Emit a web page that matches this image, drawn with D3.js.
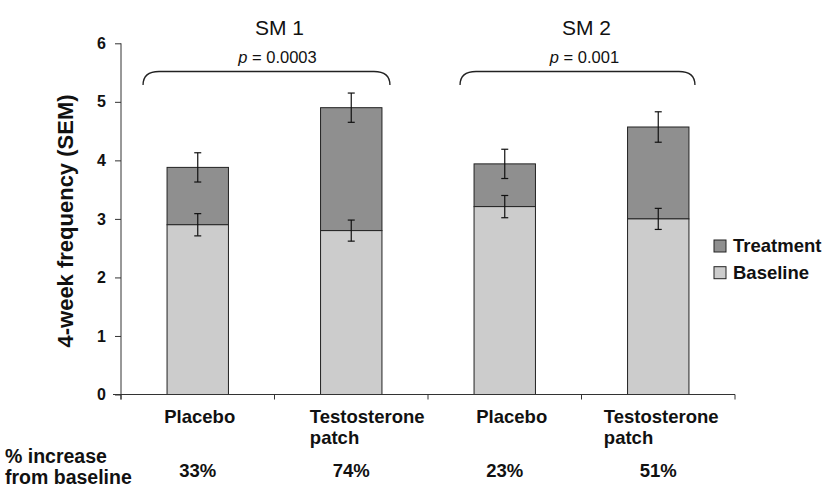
<!DOCTYPE html>
<html><head><meta charset="utf-8">
<script src="https://cdn.jsdelivr.net/npm/d3@7"></script>
<style>body{margin:0;background:#fff}svg{display:block}text{font-family:"Liberation Sans",Arial,sans-serif}</style>
</head><body><svg id="c" width="822" height="487"></svg>
<script>
const categories = ["Placebo","Testosterone patch","Placebo","Testosterone patch"];
const baseline = [2.9, 2.8, 3.21, 3.0];
const baselineErr = [0.19, 0.18, 0.19, 0.18];
const total = [3.88, 4.9, 3.94, 4.57];
const totalErr = [0.25, 0.25, 0.25, 0.26];
const pctIncrease = ["33%","74%","23%","51%"];
const groups = ["SM 1","SM 2"];
const pValues = ["0.0003","0.001"];
const yTicks = [0,1,2,3,4,5,6];
const legendItems = ["Treatment","Baseline"];

const svg = d3.select("#c");
const x = d3.scaleBand().domain(d3.range(categories.length)).range([121,735]).paddingInner(0.6).paddingOuter(0.3);
const y = d3.scaleLinear().domain([0,6]).range([394.5,43.3]);
const colTreat = "#8f8f8f", colBase = "#cccccc", stroke = "#222";
const ink = "#111";

// bars
const g = svg.append("g");
categories.forEach((c,i)=>{
  g.append("rect").attr("x",x(i)).attr("width",x.bandwidth()).attr("y",y(total[i])).attr("height",y(baseline[i])-y(total[i]))
    .attr("fill",colTreat).attr("stroke",stroke).attr("stroke-width",1);
  g.append("rect").attr("x",x(i)).attr("width",x.bandwidth()).attr("y",y(baseline[i])).attr("height",y(0)-y(baseline[i]))
    .attr("fill",colBase).attr("stroke",stroke).attr("stroke-width",1);
});
// error bars
function err(i,v,e){
  const cx = x(i)+x.bandwidth()/2;
  const eg = g.append("g").attr("stroke","#111").attr("stroke-width",1.2);
  eg.append("line").attr("x1",cx).attr("x2",cx).attr("y1",y(v+e)).attr("y2",y(v-e));
  eg.append("line").attr("x1",cx-3.5).attr("x2",cx+3.5).attr("y1",y(v+e)).attr("y2",y(v+e));
  eg.append("line").attr("x1",cx-3.5).attr("x2",cx+3.5).attr("y1",y(v-e)).attr("y2",y(v-e));
}
categories.forEach((c,i)=>{ err(i,baseline[i],baselineErr[i]); err(i,total[i],totalErr[i]); });

// y axis
const ya = svg.append("g").attr("transform","translate(121,0)")
  .call(d3.axisLeft(y).tickValues(yTicks).tickSize(6).tickPadding(9).tickFormat(d3.format("d")));
ya.select(".domain").attr("d",`M0,${y(6)}V${y(0)+5}`).attr("stroke","#333");
ya.selectAll(".tick line").attr("stroke","#333");
ya.selectAll("text").attr("font-size",16).attr("font-weight","bold").attr("fill",ink).attr("font-family","Liberation Sans, Arial, sans-serif");

// x axis
const xa = svg.append("g");
xa.append("line").attr("x1",113).attr("x2",735).attr("y1",y(0)).attr("y2",y(0)).attr("stroke","#333");
const tickXs = [121].concat(d3.range(1,categories.length).map(i=>(x(i-1)+x.bandwidth()+x(i))/2)).concat([735]);
tickXs.forEach(t=> xa.append("line").attr("x1",t).attr("x2",t).attr("y1",y(0)).attr("y2",y(0)+5).attr("stroke","#333"));

// category labels
const labelShift = [2, 16, 7, 3];
categories.forEach((c,i)=>{
  const cx = x(i)+x.bandwidth()/2;
  const words = c.split(" ");
  const t1 = svg.append("text").attr("x",cx+labelShift[i]).attr("y",423).attr("text-anchor","middle").attr("font-size",18.5).attr("font-weight","bold").attr("fill",ink).text(words[0]);
  if(words.length>1){
    const w = t1.node().getComputedTextLength();
    svg.append("text").attr("x",cx+labelShift[i]-w/2).attr("y",444).attr("text-anchor","start").attr("font-size",18.5).attr("font-weight","bold").attr("fill",ink).text(words.slice(1).join(" "));
  }
  svg.append("text").attr("x",cx).attr("y",477).attr("text-anchor","middle").attr("font-size",18.5).attr("font-weight","bold").attr("fill",ink).text(pctIncrease[i]);
});
svg.append("text").attr("x",5).attr("y",463).attr("font-size",19.5).attr("font-weight","bold").attr("fill",ink).text("% increase");
svg.append("text").attr("x",5).attr("y",484).attr("font-size",19.5).attr("font-weight","bold").attr("fill",ink).text("from baseline");

// y title
svg.append("text").attr("transform","translate(73,221) rotate(-90)").attr("text-anchor","middle").attr("font-size",22).attr("font-weight","bold").attr("fill",ink).text("4-week frequency (SEM)");

// groups: titles, p-values, braces
const braceL = [24, 14], braceR = [8, 6];
groups.forEach((gname,k)=>{
  const i0 = k*2, i1 = k*2+1;
  const left = x(i0) - braceL[k], right = x(i1)+x.bandwidth()+braceR[k];
  const cx = (x(i0)+x(i1)+x.bandwidth())/2 + 5;
  svg.append("text").attr("x",cx).attr("y",34.5).attr("text-anchor","middle").attr("font-size",21).attr("fill",ink).text(gname);
  const pt = svg.append("text").attr("x",cx-2).attr("y",63).attr("text-anchor","middle").attr("font-size",16.5).attr("fill",ink);
  pt.append("tspan").attr("font-style","italic").text("p");
  pt.append("tspan").text(" = "+pValues[k]);
  const top = 71.5, bot = 85, r = 16;
  svg.append("path").attr("d",`M${left},${bot} Q${left},${top} ${left+r},${top} L${right-r},${top} Q${right},${top} ${right},${bot}`)
    .attr("fill","none").attr("stroke","#222").attr("stroke-width",1.3);
});

// legend
legendItems.forEach((name,i)=>{
  const ly = 240 + i*26.7;
  svg.append("rect").attr("x",714).attr("y",ly).attr("width",12).attr("height",12).attr("fill",i===0?colTreat:colBase).attr("stroke","#222").attr("stroke-width",1);
  svg.append("text").attr("x",733).attr("y",ly+12).attr("font-size",18.5).attr("font-weight","bold").attr("fill",ink).text(name);
});
</script></body></html>
